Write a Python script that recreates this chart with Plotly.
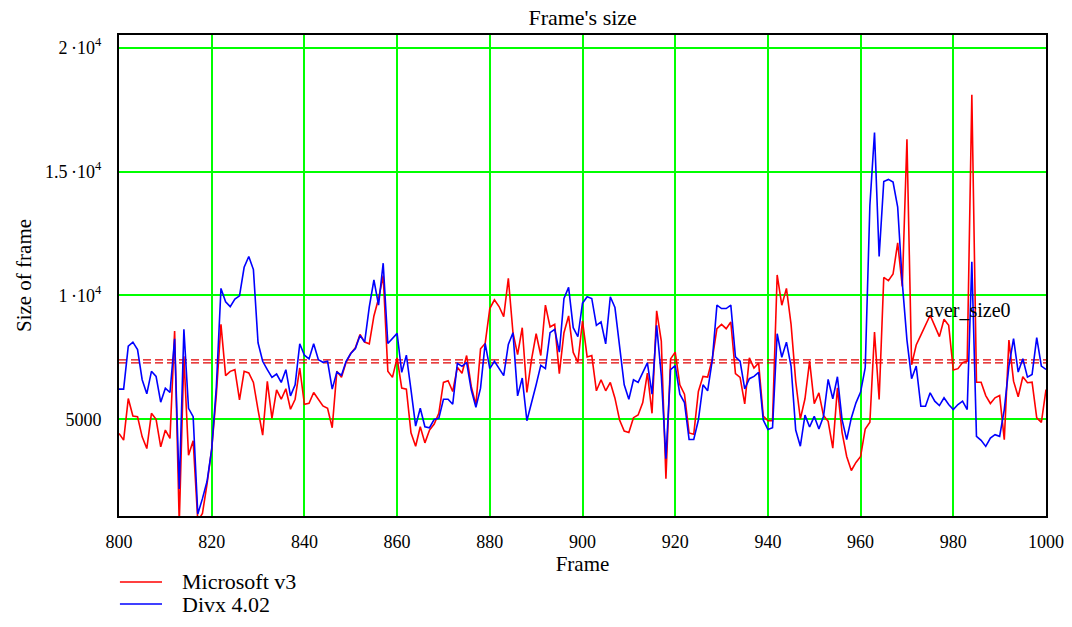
import plotly.graph_objects as go

frames = list(range(800, 1001))

microsoft_v3 = [
    4431, 4160, 5840, 5136, 5108, 4295, 3821, 5244, 5000, 3889,   # 800-809
    4567, 4228, 8564, 800, 7547, 3550, 4133, 900, 1200, 2400,      # 810-819
    3800, 6000, 8835, 6762, 6938, 7005, 5786, 6938, 6870, 6490,    # 820-829
    5379, 4363, 6531, 5041, 6193, 5813, 6233, 5406, 5813, 7073,    # 830-839
    5610, 5650, 6084, 5827, 5542, 5447, 4661, 6938, 6700, 7300,    # 840-849
    7656, 7886, 8428, 8117, 8049, 9173, 9878, 10800, 6938, 6694,   # 850-859
    7480, 6260, 6220, 4458, 3916, 4702, 4051, 4567, 4810, 5244,    # 860-869
    6490, 6558, 6125, 7100, 6860, 7575, 6328, 5583, 7846, 8063,    # 870-879
    9472, 9824, 9553, 9146, 10691, 8496, 7615, 8699, 6084, 7412,   # 880-889
    8455, 7575, 9607, 8726, 8835, 6843, 8496, 9173, 7700, 7303,    # 890-899
    8970, 7520, 7575, 6152, 6599, 6152, 6490, 5854, 4973, 4526,    # 900-909
    4472, 5068, 5176, 5678, 6870, 5244, 9377, 8157, 2602, 7439,    # 910-919
    7710, 6396, 6016, 4450, 4400, 6125, 6735, 6707, 7439, 8659,    # 920-929
    8835, 8659, 8930, 6843, 6694, 5623, 7480, 7073, 7276, 5136,    # 930-939
    4946, 4946, 10827, 9607, 10285, 8835, 6531, 5014, 5830, 7351,  # 940-949
    5636, 6069, 5151, 4921, 3841, 6271, 4476, 3504, 2937, 3261,    # 950-959
    3504, 4611, 4881, 8526, 5800, 10728, 10593, 10863, 12119, 10364,  # 960-969
    16303, 7200, 8000, 8400, 8770, 9200, 8770, 8340, 9040, 8800,   # 970-979
    6990, 7045, 7290, 7350, 18100, 6500, 6500, 5960, 5640, 5870,   # 980-989
    5960, 4180, 8200, 6540, 5910, 6720, 6480, 6500, 5060, 4880,    # 990-999
    6200,                                                          # 1000
]

divx_402 = [
    6220, 6220, 7954, 8117, 7818, 6600, 6030, 6938, 6735, 5691,    # 800-809
    6260, 6084, 8252, 2195, 8631, 5447, 5108, 1180, 1800, 2500,    # 810-819
    3800, 6300, 10285, 9743, 9550, 9851, 9986, 11138, 11572, 11043,  # 820-829
    8090, 7344, 7005, 6694, 6830, 6490, 7005, 5949, 6396, 8049,    # 830-839
    7588, 7439, 8049, 7412, 7303, 7344, 6220, 6911, 6780, 7344,    # 840-849
    7656, 7859, 8388, 8117, 9539, 10623, 9607, 11301, 8063, 8252,  # 850-859
    8469, 6897, 7588, 6193, 4729, 5447, 4702, 4661, 5000, 5041,    # 860-869
    5813, 5813, 5610, 7260, 7141, 7303, 6193, 5488, 6260, 8063,    # 870-879
    7046, 7344, 7032, 6762, 8022, 8496, 5949, 6667, 4946, 5623,    # 880-889
    6396, 7182, 7046, 8496, 8631, 7710, 9878, 10325, 8700, 8333,   # 890-899
    9688, 9946, 9878, 8794, 8930, 8049, 9946, 9512, 7954, 6396,    # 900-909
    5813, 6599, 6490, 6897, 7276, 6016, 8794, 6762, 3415, 7005,    # 910-919
    7168, 6016, 5678, 4187, 4187, 4973, 6396, 6152, 7385, 9607,    # 920-929
    9472, 9472, 9607, 7520, 7344, 6233, 6640, 6735, 6897, 4973,    # 930-939
    4594, 4661, 8455, 7507, 8117, 7141, 4567, 3916, 5170, 4690,    # 940-949
    5122, 4609, 5122, 6612, 5829, 6720, 4991, 4181, 5059, 5667,    # 950-959
    6100, 7085, 13633, 16573, 11577, 14601, 14682, 14574, 13562, 10500,  # 960-969
    8200, 6640, 7150, 5530, 5530, 6070, 5733, 5557, 5868, 5598,    # 970-979
    5395, 5598, 5733, 5395, 11362, 4315, 4153, 3910, 4248, 4383,   # 980-989
    4315, 5395, 7150, 8257, 6907, 7447, 6705, 6813, 8298, 7150,    # 990-999
    7015,                                                          # 1000
]

series_names = ["Microsoft v3", "Divx 4.02"]
series_colors = ["#ff0000", "#0000ff"]
aver_sizes = [7400, 7280]

y_tickvals = [5000, 10000, 15000, 20000]
y_ticktext = ["5000", "1\u2009·10<sup>4</sup>", "1.5\u2009·10<sup>4</sup>", "2\u2009·10<sup>4</sup>"]
x_tickvals = list(range(800, 1001, 20))

FONT = "Liberation Serif"
FS_TICK = 18
FS_TITLE = 22
FS_AXT = 21
FS_LEG = 22
GRID = "#00ff00"

fig = go.Figure()

for a in aver_sizes:
    fig.add_trace(go.Scatter(
        x=[frames[0], frames[-1]], y=[a, a], mode="lines",
        line=dict(color="#e00000", width=1.2, dash="8px,4px"),
        showlegend=False, hoverinfo="skip"))

for name, vals, col in zip(series_names, [microsoft_v3, divx_402], series_colors):
    fig.add_trace(go.Scatter(x=frames, y=vals, mode="lines", name=name,
                             line=dict(color=col, width=1.6), showlegend=False))

fig.add_annotation(x=983.2, y=9400, text="aver_size0", showarrow=False,
                   font=dict(family=FONT, size=20, color="black"))

# legend drawn below the plot (line sample + label)
legend_y = [-0.1372, -0.183]
for name, col, ly in zip(series_names, series_colors, legend_y):
    fig.add_shape(type="line", xref="paper", yref="paper",
                  x0=0.001, x1=0.0464, y0=ly, y1=ly,
                  line=dict(color=col, width=1.6))
    fig.add_annotation(xref="paper", yref="paper", x=0.0658, y=ly,
                       xanchor="left", yanchor="middle", text=name,
                       showarrow=False, font=dict(family=FONT, size=FS_LEG, color="black"))

fig.update_layout(
    width=1072, height=627,
    margin=dict(l=119, r=26, t=35, b=111, autoexpand=False),
    paper_bgcolor="white", plot_bgcolor="white",
    font=dict(family=FONT, size=FS_TICK, color="black"),
    title=dict(text="Frame's size", x=0.5435, xanchor="center", y=0.973, yanchor="middle",
               font=dict(family=FONT, size=FS_TITLE, color="black")),
    showlegend=False,
)

fig.update_xaxes(
    range=[800, 1000], tickvals=x_tickvals, ticks="",
    showgrid=True, gridcolor=GRID, gridwidth=1.5,
    showline=True, linecolor="black", linewidth=2, mirror=True,
    zeroline=False, ticklabelstandoff=8, automargin=False,
    title=dict(text="Frame", standoff=6, font=dict(family=FONT, size=FS_AXT)),
    tickfont=dict(family=FONT, size=FS_TICK),
)
fig.update_yaxes(
    range=[1100, 20510], tickvals=y_tickvals, ticktext=y_ticktext, ticks="",
    showgrid=True, gridcolor=GRID, gridwidth=1.5,
    showline=True, linecolor="black", linewidth=2, mirror=True,
    zeroline=False, ticklabelstandoff=12, automargin=False,
    title=dict(text="Size of frame", standoff=8, font=dict(family=FONT, size=FS_AXT)),
    tickfont=dict(family=FONT, size=FS_TICK),
)

fig.write_html("out.html")
